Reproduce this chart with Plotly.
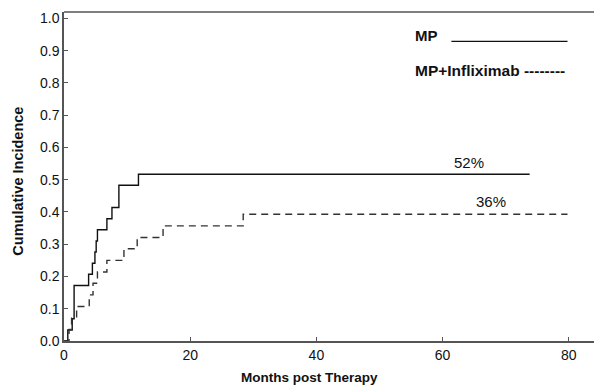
import plotly.graph_objects as go

# MP arm (solid)
mp_months = [0, 0.6, 1.3, 1.6, 3.9, 4.5, 4.9, 5.1, 5.3, 6.8, 7.6, 8.7, 11.8, 73.8]
mp_cum = [0, 0.034, 0.069, 0.172, 0.207, 0.241, 0.276, 0.310, 0.345, 0.379, 0.414, 0.483, 0.517, 0.517]

# MP+Infliximab arm (dashed)
inf_months = [0, 0.8, 1.2, 2.0, 4.0, 4.6, 5.3, 6.8, 9.5, 11.6, 15.7, 28.4, 79.8]
inf_cum = [0, 0.036, 0.071, 0.107, 0.143, 0.179, 0.214, 0.250, 0.286, 0.321, 0.357, 0.393, 0.393]

x_ticks = [0, 20, 40, 60, 80]
y_ticks = [0.0, 0.1, 0.2, 0.3, 0.4, 0.5, 0.6, 0.7, 0.8, 0.9, 1.0]

labels = ["52%", "36%"]
label_x = [64.2, 67.6]
label_y = [0.552, 0.431]

FONT = "Liberation Sans, Arial, sans-serif"

fig = go.Figure()
fig.add_trace(go.Scatter(x=mp_months, y=mp_cum, mode="lines", line_shape="hv",
                         line=dict(color="#111111", width=1.4), name="MP", showlegend=False))
fig.add_trace(go.Scatter(x=inf_months, y=inf_cum, mode="lines", line_shape="hv",
                         line=dict(color="#333333", width=1.4, dash="7px,5px"),
                         name="MP+Infliximab", showlegend=False))

for t, xx, yy in zip(labels, label_x, label_y):
    fig.add_annotation(x=xx, y=yy, text=t, showarrow=False, xanchor="center", yanchor="middle",
                       font=dict(family=FONT, size=15, color="#111111"))

# legend drawn as text
fig.add_annotation(x=55.3, y=0.947, text="<b>MP</b>", showarrow=False, xanchor="left", yanchor="middle",
                   font=dict(family=FONT, size=15, color="#111111"))
fig.add_shape(type="line", x0=61.4, x1=79.8, y0=0.929, y1=0.929, xref="x", yref="y",
              line=dict(color="#111111", width=1.4))
fig.add_annotation(x=55.3, y=0.839, text="<b>MP+Infliximab --------</b>", showarrow=False,
                   xanchor="left", yanchor="middle",
                   font=dict(family=FONT, size=15.5, color="#111111"))

# top frame line
fig.add_shape(type="line", xref="paper", yref="paper", x0=0, x1=1, y0=1, y1=1,
              line=dict(color="#555555", width=1.5))

# axis titles as annotations (paper coords)
fig.add_annotation(xref="paper", yref="paper", x=0.464, y=-0.112, text="<b>Months post Therapy</b>",
                   showarrow=False, xanchor="center", yanchor="middle",
                   font=dict(family=FONT, size=13.5, color="#111111"))
fig.add_annotation(xref="paper", yref="paper", x=-0.087, y=0.487, text="<b>Cumulative Incidence</b>",
                   showarrow=False, xanchor="center", yanchor="middle", textangle=-90,
                   font=dict(family=FONT, size=14.5, color="#111111"))

fig.update_layout(
    width=594, height=385,
    margin=dict(l=64, r=0, t=12, b=44, autoexpand=False),
    paper_bgcolor="white", plot_bgcolor="white",
    font=dict(family=FONT, size=14, color="#111111"),
)
fig.update_xaxes(range=[0, 84.0], tickvals=x_ticks, ticktext=[str(v) for v in x_ticks],
                 showgrid=False, zeroline=False, showline=True, linecolor="#555555", linewidth=1.5,
                 ticks="inside", ticklen=4, tickcolor="#555555", automargin=False,
                 tickfont=dict(size=14))
fig.update_yaxes(range=[0, 1.02], tickvals=y_ticks, ticktext=[f"{v:.1f}" for v in y_ticks],
                 showgrid=False, zeroline=False, showline=True, linecolor="#555555", linewidth=1.5,
                 ticks="inside", ticklen=4, tickcolor="#555555", automargin=False,
                 tickfont=dict(size=14))

fig.write_html("out.html", config={"displayModeBar": False},
               post_script="document.body.style.margin='0';document.body.style.overflow='hidden';")
